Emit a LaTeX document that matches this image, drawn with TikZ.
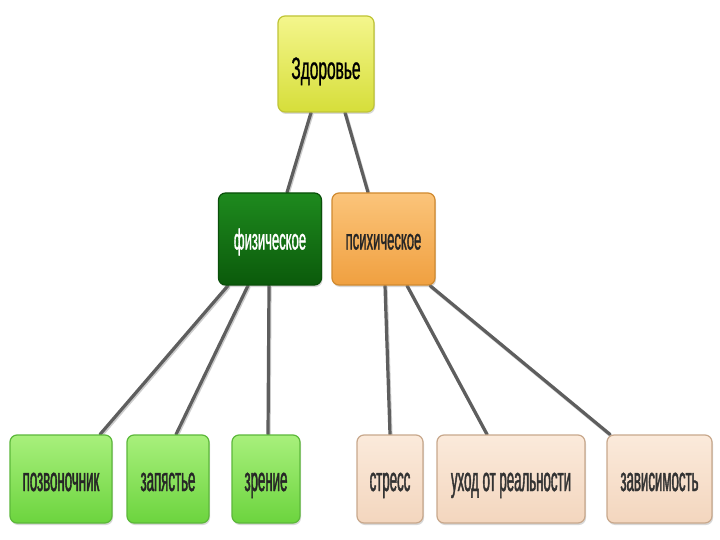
\documentclass[tikz,border=0pt]{standalone}
\usepackage{fontspec}
\setmainfont{Liberation Sans}
\newfontfamily\narm[FakeStretch=0.45,FakeBold=1.0]{Liberation Sans}
\newfontfamily\narl[FakeStretch=0.39,FakeBold=1.2]{Liberation Sans}
\newfontfamily\narb[FakeStretch=0.50,FakeBold=0.8]{Liberation Sans}
\usetikzlibrary{backgrounds,shadows}
\definecolor{ytop}{HTML}{F4F68C}
\definecolor{ybot}{HTML}{D6DE3A}
\definecolor{ybrd}{HTML}{BFC436}
\definecolor{gdtop}{HTML}{1E8A1E}
\definecolor{gdbot}{HTML}{0B5A0B}
\definecolor{gdbrd}{HTML}{0A4F0A}
\definecolor{otop}{HTML}{FBC47A}
\definecolor{obot}{HTML}{F0A040}
\definecolor{obrd}{HTML}{D08A30}
\definecolor{gltop}{HTML}{A8F07C}
\definecolor{glbot}{HTML}{6CD43E}
\definecolor{glbrd}{HTML}{5CB83A}
\definecolor{btop}{HTML}{FBEADB}
\definecolor{bbot}{HTML}{F3D6BE}
\definecolor{bbrd}{HTML}{C8A88C}
\definecolor{lnc}{HTML}{5E5E5E}
\tikzset{
  box/.style={rectangle, rounded corners=7pt, line width=1.2pt, inner sep=0pt,
    drop shadow={shadow xshift=1pt, shadow yshift=-2pt, opacity=0.3}},
  topbox/.style={box, draw=ybrd, top color=ytop, bottom color=ybot, text=black,
    minimum width=96pt, minimum height=96pt, text height=30pt, text depth=0pt,
    font=\narb\fontsize{31}{31}\selectfont},
  midg/.style={box, draw=gdbrd, top color=gdtop, bottom color=gdbot, text=white,
    minimum height=92pt, text height=21pt, text depth=0pt,
    font=\narm\fontsize{29}{29}\selectfont},
  mido/.style={box, draw=obrd, top color=otop, bottom color=obot, text=black!85,
    minimum height=92pt, text height=21pt, text depth=0pt,
    font=\narm\fontsize{29}{29}\selectfont},
  lg/.style={box, draw=glbrd, top color=gltop, bottom color=glbot, text=black!85,
    minimum height=88pt, text height=24pt, text depth=0pt,
    font=\narl\fontsize{34}{34}\selectfont},
  lb/.style={box, draw=bbrd, top color=btop, bottom color=bbot, text=black!80,
    minimum height=88pt, text height=24pt, text depth=0pt,
    font=\narl\fontsize{34}{34}\selectfont},
  conn/.style={draw=lnc, line width=3.2pt, line cap=round},
  connsh/.style={draw=black!20, line width=3.2pt, line cap=round, transform canvas={xshift=1pt,yshift=-1.5pt}}
}
\begin{document}
\begin{tikzpicture}[x=1pt,y=-1pt]
\useasboundingbox (0,0) rectangle (720,540);
\node[topbox] (top) at (326,64) {Здоровье};
\node[midg, minimum width=103pt] (phys) at (270,239) {физическое};
\node[mido, minimum width=103pt] (psy) at (383.5,239) {психическое};
\node[lg, minimum width=102pt] (pozv) at (61,479) {позвоночник};
\node[lg, minimum width=82pt] (zap) at (168,479) {запястье};
\node[lg, minimum width=68pt] (zren) at (266,479) {зрение};
\node[lb, minimum width=66pt] (stress) at (390,479) {стресс};
\node[lb, minimum width=148pt] (uhod) at (511,479) {уход от реальности};
\node[lb, minimum width=105pt] (zav) at (659.5,479) {зависимость};
\begin{scope}[on background layer]
\fill[white] (0,0) rectangle (720,540);
\foreach \s in {connsh,conn}{
\draw[\s] ([xshift=-15pt]top.south) -- ([xshift=17pt]phys.north);
\draw[\s] ([xshift=19pt]top.south) -- ([xshift=-15.5pt]psy.north);
\draw[\s] ([xshift=-42pt]phys.south) -- ([xshift=39pt]pozv.north);
\draw[\s] ([xshift=-22pt]phys.south) -- ([xshift=8pt]zap.north);
\draw[\s] ([xshift=-1pt]phys.south) -- ([xshift=2pt]zren.north);
\draw[\s] ([xshift=1.5pt]psy.south) -- ([xshift=0pt]stress.north);
\draw[\s] ([xshift=23.5pt]psy.south) -- ([xshift=-24pt]uhod.north);
\draw[\s] ([xshift=46.5pt]psy.south) -- ([xshift=-49.5pt]zav.north);
}
\end{scope}
\end{tikzpicture}
\end{document}
